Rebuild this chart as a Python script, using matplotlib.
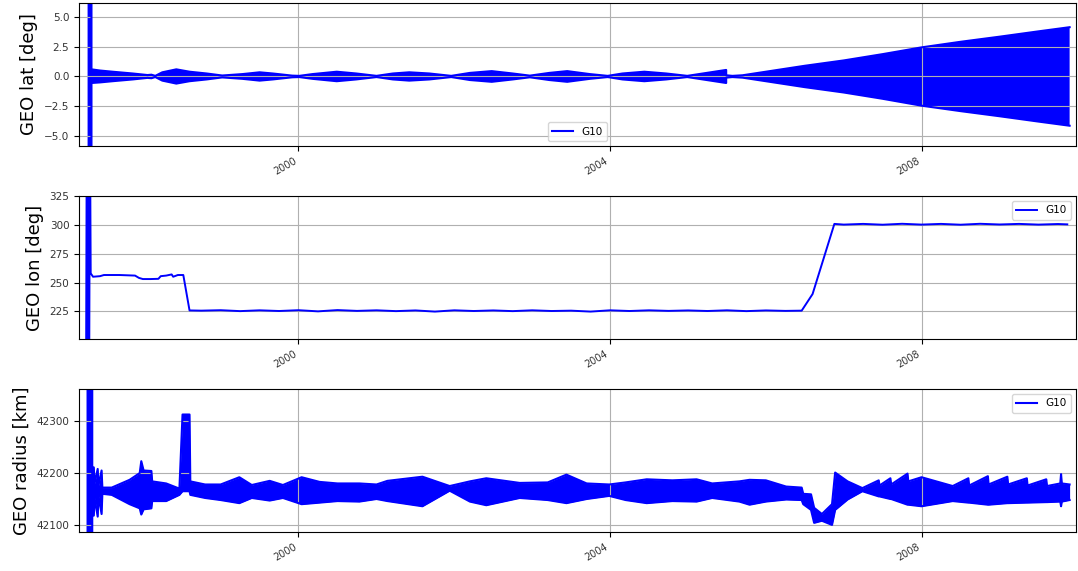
from datetime import datetime

import matplotlib
matplotlib.use("Agg")
import matplotlib.dates as mdates
import matplotlib.pyplot as plt
from matplotlib.ticker import MultipleLocator

# --- latitude envelope (deg) ---
lat_years = [1997.29, 1997.34, 1997.34, 1997.45, 1997.61, 1997.87, 1998.06, 1998.11, 1998.16,
             1998.25, 1998.43, 1998.60, 1998.82, 1999.02, 1999.28, 1999.50, 1999.67, 1999.92,
             2000.01, 2000.18, 2000.49, 2000.74, 2001.00, 2001.21, 2001.42, 2001.68, 2001.96,
             2002.20, 2002.48, 2002.75, 2002.97, 2003.22, 2003.45, 2003.74, 2003.97, 2004.16,
             2004.44, 2004.72, 2004.99, 2005.24, 2005.44, 2005.49, 2005.49, 2005.57, 2005.70,
             2006.00, 2006.50, 2007.00, 2007.50, 2008.00, 2008.50, 2009.00, 2009.50, 2009.90]
lat_upper = [60.0, 60.0, 0.60, 0.50, 0.40, 0.25, 0.12, 0.15, 0.05,
             0.35, 0.60, 0.40, 0.25, 0.08, 0.20, 0.35, 0.25, 0.07,
             0.05, 0.20, 0.40, 0.25, 0.05, 0.25, 0.35, 0.25, 0.05,
             0.30, 0.45, 0.25, 0.07, 0.30, 0.45, 0.20, 0.05, 0.25,
             0.40, 0.25, 0.05, 0.30, 0.50, 0.55, 0.10, 0.05, 0.10,
             0.40, 0.90, 1.35, 1.88, 2.45, 2.92, 3.35, 3.80, 4.15]
lat_lower = [-60.0, -60.0, -0.55, -0.50, -0.40, -0.25, -0.12, -0.15, -0.05,
             -0.35, -0.60, -0.40, -0.25, -0.08, -0.20, -0.35, -0.25, -0.07,
             -0.05, -0.20, -0.40, -0.25, -0.05, -0.25, -0.35, -0.25, -0.05,
             -0.30, -0.45, -0.25, -0.07, -0.30, -0.45, -0.20, -0.05, -0.25,
             -0.40, -0.25, -0.05, -0.30, -0.50, -0.55, -0.10, -0.05, -0.10,
             -0.40, -0.90, -1.35, -1.88, -2.46, -2.92, -3.35, -3.80, -4.15]

# --- longitude (deg) ---
lon_years = [1997.27, 1997.28, 1997.29, 1997.30, 1997.31, 1997.32, 1997.33, 1997.36, 1997.45,
             1997.50, 1997.70, 1997.90, 1997.95, 1998.00, 1998.10, 1998.20, 1998.23, 1998.30,
             1998.37, 1998.39, 1998.45, 1998.52, 1998.60, 1998.75, 1999.00, 1999.25, 1999.50,
             1999.75, 2000.00, 2000.25, 2000.50, 2000.75, 2001.00, 2001.25, 2001.50, 2001.75,
             2002.00, 2002.25, 2002.50, 2002.75, 2003.00, 2003.25, 2003.50, 2003.75, 2004.00,
             2004.25, 2004.50, 2004.75, 2005.00, 2005.25, 2005.50, 2005.75, 2006.00, 2006.25,
             2006.46, 2006.60, 2006.88, 2007.00, 2007.25, 2007.50, 2007.75, 2008.00, 2008.25,
             2008.50, 2008.75, 2009.00, 2009.25, 2009.50, 2009.75, 2009.87]
lon_values = [150, 400, 150, 400, 150, 400, 258, 255, 255.5,
              256.5, 256.5, 256.0, 254.0, 253.0, 253.0, 253.2, 255.5, 256.0,
              257.0, 255.0, 256.5, 256.5, 225.8, 225.6, 226.0, 225.2, 225.9,
              225.3, 226.0, 225.0, 226.1, 225.4, 225.9, 225.2, 225.8, 224.8,
              225.9, 225.3, 225.8, 225.2, 225.9, 225.3, 225.6, 224.8, 225.9,
              225.3, 225.9, 225.4, 225.8, 225.3, 225.9, 225.2, 225.8, 225.4,
              225.6, 240.0, 300.8, 300.2, 300.8, 300.1, 300.9, 300.2, 300.8,
              300.1, 300.9, 300.3, 300.8, 300.2, 300.7, 300.4]

# --- radius envelope (km) ---
rad_years = [1997.27, 1997.35, 1997.35, 1997.37, 1997.38, 1997.42, 1997.43, 1997.47, 1997.48,
             1997.60, 1997.83, 1997.96, 1997.98, 1998.01, 1998.11, 1998.12, 1998.30, 1998.47,
             1998.51, 1998.60, 1998.61, 1998.80, 1999.00, 1999.24, 1999.40, 1999.63, 1999.80,
             2000.04, 2000.27, 2000.50, 2000.78, 2001.00, 2001.14, 2001.59, 2001.94, 2002.20,
             2002.41, 2002.84, 2003.20, 2003.44, 2003.70, 2003.99, 2004.20, 2004.47, 2004.80,
             2005.11, 2005.31, 2005.66, 2005.79, 2006.00, 2006.26, 2006.46, 2006.48, 2006.58,
             2006.62, 2006.72, 2006.85, 2006.89, 2007.05, 2007.24, 2007.45, 2007.46, 2007.60,
             2007.61, 2007.82, 2007.83, 2008.00, 2008.40, 2008.60, 2008.61, 2008.85, 2008.86,
             2009.10, 2009.11, 2009.35, 2009.36, 2009.60, 2009.61, 2009.78, 2009.79, 2009.80,
             2009.90]
rad_upper = [42500, 42500, 42182, 42211, 42180, 42208, 42176, 42205, 42172,
             42172, 42187, 42200, 42223, 42205, 42204, 42184, 42180, 42170,
             42313, 42313, 42184, 42178, 42178, 42192, 42177, 42185, 42177,
             42192, 42183, 42180, 42180, 42178, 42185, 42193, 42175, 42184,
             42190, 42181, 42182, 42197, 42180, 42178, 42182, 42188, 42186,
             42188, 42180, 42184, 42187, 42186, 42174, 42172, 42160, 42159,
             42133, 42121, 42140, 42201, 42184, 42171, 42186, 42176, 42190,
             42178, 42199, 42184, 42192, 42175, 42190, 42176, 42194, 42178,
             42193, 42178, 42190, 42176, 42188, 42175, 42180, 42198, 42180,
             42178]
rad_lower = [42000, 42000, 42150, 42118, 42152, 42116, 42156, 42121, 42160,
             42158, 42140, 42132, 42120, 42130, 42132, 42146, 42146, 42158,
             42165, 42165, 42158, 42152, 42148, 42142, 42152, 42147, 42152,
             42140, 42143, 42146, 42145, 42150, 42146, 42136, 42166, 42145,
             42138, 42152, 42148, 42142, 42150, 42156, 42148, 42142, 42146,
             42145, 42152, 42145, 42139, 42145, 42149, 42148, 42140, 42129,
             42104, 42108, 42100, 42129, 42149, 42165, 42155, 42155, 42150,
             42150, 42139, 42139, 42136, 42146, 42143, 42143, 42139, 42139,
             42142, 42142, 42143, 42143, 42144, 42144, 42145, 42136, 42145,
             42148]

x_start, x_end = 1997.18, 2009.98


def to_dates(years):
    out = []
    for y in years:
        yr = int(y)
        start = datetime(yr, 1, 1)
        out.append(start + (datetime(yr + 1, 1, 1) - start) * (y - yr))
    return out


fig, axes = plt.subplots(3, 1, figsize=(10.78, 5.71), dpi=100)
fig.subplots_adjust(left=0.0733, right=0.998, top=0.995, bottom=0.068, hspace=0.35)

ax = axes[0]
d = to_dates(lat_years)
ax.fill_between(d, lat_lower, lat_upper, color="blue", lw=0)
ax.plot(d, lat_upper, color="blue", lw=1.5, label="G10")
ax.plot(d, lat_lower, color="blue", lw=1.5)
ax.set_ylim(-5.85, 6.2)
ax.set_ylabel("GEO lat [deg]", fontsize=13)
ax.legend(loc="lower center", fontsize=7.5)

ax = axes[1]
ax.plot(to_dates(lon_years), lon_values, color="blue", lw=1.4, label="G10")
ax.set_ylim(201, 325)
ax.set_ylabel("GEO lon [deg]", fontsize=13)
ax.legend(loc="upper right", fontsize=7.5)

ax = axes[2]
d = to_dates(rad_years)
ax.fill_between(d, rad_lower, rad_upper, color="blue", lw=0)
ax.plot(d, rad_upper, color="blue", lw=1.5, label="G10")
ax.plot(d, rad_lower, color="blue", lw=1.5)
ax.set_ylim(42086, 42362)
ax.yaxis.set_major_locator(MultipleLocator(100))
ax.set_ylabel("GEO radius [km]", fontsize=13)
ax.legend(loc="upper right", fontsize=7.5)

for ax in axes:
    ax.set_xlim(to_dates([x_start, x_end]))
    ax.xaxis.set_major_locator(mdates.YearLocator(4))
    ax.xaxis.set_major_formatter(mdates.DateFormatter("%Y"))
    ax.grid(True)
    ax.tick_params(labelsize=7.5, labelcolor="#333333")
    plt.setp(ax.get_xticklabels(), rotation=30, ha="right", fontsize=7)

fig.savefig("out.png", dpi=100)
